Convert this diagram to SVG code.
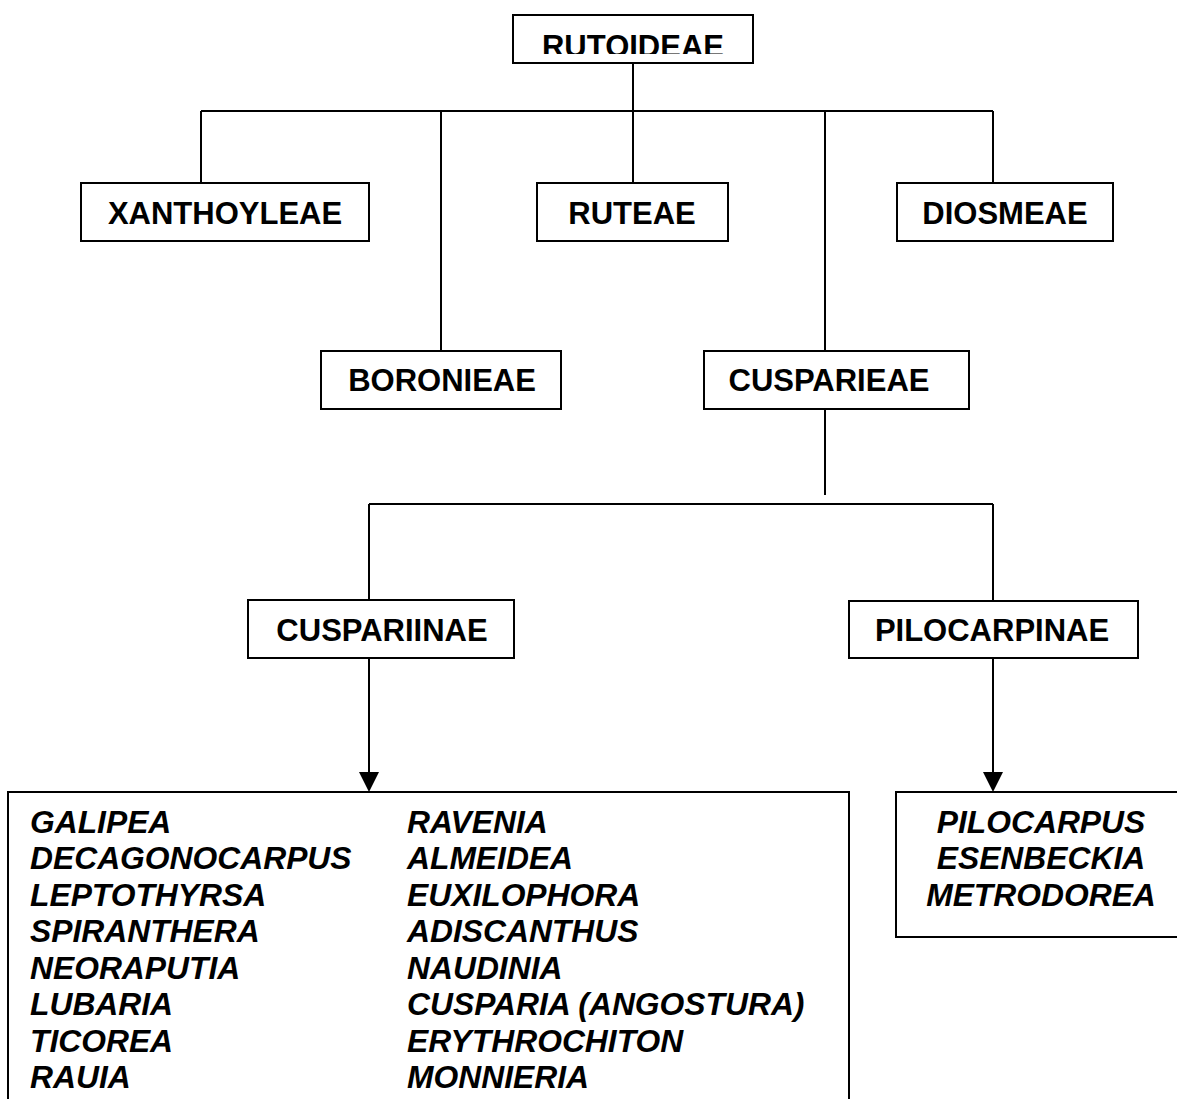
<svg xmlns="http://www.w3.org/2000/svg" width="1177" height="1099" viewBox="0 0 1177 1099">
<style>
.box{fill:#fff;stroke:#000;stroke-width:2}
.ln{fill:none;stroke:#000;stroke-width:2}
.h{font-family:"Liberation Sans",Arial,sans-serif;font-weight:bold;font-size:31px;text-anchor:middle;fill:#000}
.i{font-family:"Liberation Sans",Arial,sans-serif;font-weight:bold;font-style:italic;font-size:31.8px;fill:#000}
.ic{text-anchor:middle}
</style>
<defs>
<clipPath id="clipTop"><rect x="513" y="15" width="240" height="39"/></clipPath>
</defs>
<g id="connectors">
<path class="ln" d="M633,63 V111 M201,111 H993 M201,111 V183 M441,111 V351 M633,111 V183 M825,111 V351 M993,111 V183"/>
<path class="ln" d="M825,409 V495 M369,504 H993 M369,504 V600 M993,504 V601"/>
<line class="ln" x1="369" y1="658" x2="369" y2="772"/>
<path d="M359,772 L379,772 L369,792 Z" fill="#000"/>
<line class="ln" x1="993" y1="658" x2="993" y2="772"/>
<path d="M983,772 L1003,772 L993,792 Z" fill="#000"/>
</g>
<g id="rutoideae">
<rect class="box" x="513" y="15" width="240" height="48"/>
<text class="h" x="633" y="57" clip-path="url(#clipTop)">RUTOIDEAE</text>
</g>
<g id="xanthoyleae">
<rect class="box" x="81" y="183" width="288" height="58"/>
<text class="h" x="225" y="224">XANTHOYLEAE</text>
</g>
<g id="ruteae">
<rect class="box" x="537" y="183" width="191" height="58"/>
<text class="h" x="632" y="224">RUTEAE</text>
</g>
<g id="diosmeae">
<rect class="box" x="897" y="183" width="216" height="58"/>
<text class="h" x="1005" y="224">DIOSMEAE</text>
</g>
<g id="boronieae">
<rect class="box" x="321" y="351" width="240" height="58"/>
<text class="h" x="442" y="391">BORONIEAE</text>
</g>
<g id="cusparieae">
<rect class="box" x="704" y="351" width="265" height="58"/>
<text class="h" x="829" y="391">CUSPARIEAE</text>
</g>
<g id="cuspariinae">
<rect class="box" x="248" y="600" width="266" height="58"/>
<text class="h" x="382" y="641">CUSPARIINAE</text>
</g>
<g id="pilocarpinae">
<rect class="box" x="849" y="601" width="289" height="57"/>
<text class="h" x="992" y="641">PILOCARPINAE</text>
</g>
<g id="cuspariinae-genera">
<rect class="box" x="8" y="792" width="841" height="320"/>
<text class="i" x="30" y="833">GALIPEA</text>
<text class="i" x="30" y="869.4">DECAGONOCARPUS</text>
<text class="i" x="30" y="905.9">LEPTOTHYRSA</text>
<text class="i" x="30" y="942.3">SPIRANTHERA</text>
<text class="i" x="30" y="978.7">NEORAPUTIA</text>
<text class="i" x="30" y="1015.1">LUBARIA</text>
<text class="i" x="30" y="1051.6">TICOREA</text>
<text class="i" x="30" y="1088">RAUIA</text>
<text class="i" x="407" y="833">RAVENIA</text>
<text class="i" x="407" y="869.4">ALMEIDEA</text>
<text class="i" x="407" y="905.9">EUXILOPHORA</text>
<text class="i" x="407" y="942.3">ADISCANTHUS</text>
<text class="i" x="407" y="978.7">NAUDINIA</text>
<text class="i" x="407" y="1015.1">CUSPARIA (ANGOSTURA)</text>
<text class="i" x="407" y="1051.6">ERYTHROCHITON</text>
<text class="i" x="407" y="1088">MONNIERIA</text>
</g>
<g id="pilocarpinae-genera">
<rect class="box" x="896" y="792" width="300" height="145"/>
<text class="i ic" x="1041" y="833">PILOCARPUS</text>
<text class="i ic" x="1041" y="869">ESENBECKIA</text>
<text class="i ic" x="1041" y="906">METRODOREA</text>
</g>
</svg>
